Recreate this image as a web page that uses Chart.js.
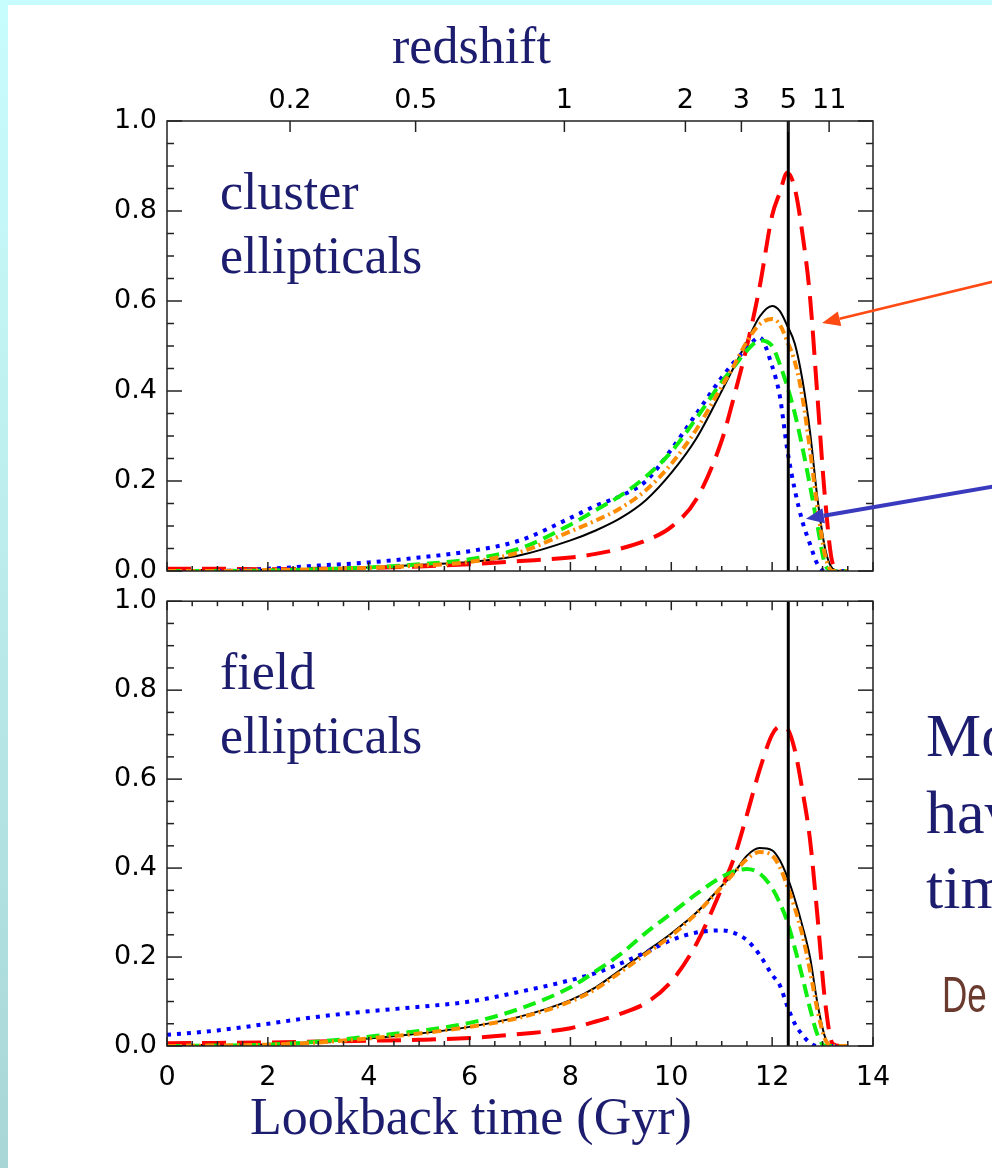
<!DOCTYPE html>
<html>
<head>
<meta charset="utf-8">
<script src="https://cdn.jsdelivr.net/npm/chart.js@4.4.1/dist/chart.umd.min.js"></script>
<style>
  html, body { margin: 0; padding: 0; }
  body { width: 992px; height: 1168px; position: relative; overflow: hidden; background: #fff; }
  .band-top { position: absolute; left: 0; top: 0; width: 992px; height: 5px; background: #c8fdfd; }
  .band-left { position: absolute; left: 0; top: 0; width: 8px; height: 1168px; background: linear-gradient(#c8fdfd, #bdeded 45%, #a8d6d6); }
  canvas { position: absolute; left: 0; }
  #topPanel { top: 0; }
  #bottomPanel { top: 575px; }
  .txt { position: absolute; font-family: "Liberation Serif", "Times New Roman", serif; color: #1d1d6f; line-height: 1; white-space: nowrap; }
  .big { font-size: 52px; }
  .side { font-size: 62px; left: 926px; }
  .ref { position: absolute; left: 942px; top: 970px; font-family: "Liberation Sans", sans-serif; font-size: 50px; line-height: 1; color: #6b3a2e; transform: scaleX(0.7); transform-origin: left top; white-space: nowrap; }
</style>
</head>
<body>
<div class="band-top"></div>
<div class="band-left"></div>
<canvas id="topPanel" width="992" height="600"></canvas>
<canvas id="bottomPanel" width="992" height="593"></canvas>

<div class="txt big" style="left:392px; top:20px;">redshift</div>
<div class="txt big" style="left:220px; top:166px;">cluster</div>
<div class="txt big" style="left:220px; top:230px;">ellipticals</div>
<div class="txt big" style="left:220px; top:646px;">field</div>
<div class="txt big" style="left:220px; top:710px;">ellipticals</div>
<div class="txt big" style="left:250px; top:1091px;">Lookback time (Gyr)</div>
<div class="txt side" style="top:704px;">Mo</div>
<div class="txt side" style="top:781px;">hav</div>
<div class="txt side" style="top:856px;">tim</div>
<div class="ref">De</div>

<script>
// ---------- data ----------
const lookbackGyr = [0, 1, 2, 3, 4, 5, 6, 7, 8, 8.5, 9, 9.5, 10, 10.5, 11, 11.25, 11.5, 11.75, 12, 12.15, 12.3, 12.45, 12.6, 12.75, 12.9, 13.05, 13.2, 13.35, 13.5];

// cluster ellipticals (top panel)
const clusterBlack  = [0.002, 0.002, 0.003, 0.005, 0.008, 0.014, 0.02, 0.035, 0.068, 0.09, 0.118, 0.158, 0.218, 0.295, 0.4, 0.455, 0.51, 0.565, 0.589, 0.578, 0.545, 0.505, 0.425, 0.31, 0.16, 0.05, 0.005, 0, 0];
const clusterOrange = [0, 0, 0.002, 0.004, 0.007, 0.012, 0.02, 0.042, 0.088, 0.112, 0.14, 0.18, 0.238, 0.315, 0.41, 0.458, 0.51, 0.548, 0.56, 0.548, 0.51, 0.465, 0.387, 0.27, 0.14, 0.035, 0, 0, 0];
const clusterGreen  = [0, 0, 0.001, 0.004, 0.008, 0.015, 0.026, 0.05, 0.103, 0.135, 0.168, 0.21, 0.265, 0.34, 0.42, 0.455, 0.49, 0.512, 0.5, 0.46, 0.41, 0.35, 0.275, 0.19, 0.1, 0.015, 0, 0, 0];
const clusterBlue   = [0, 0, 0.005, 0.012, 0.019, 0.03, 0.044, 0.068, 0.118, 0.145, 0.167, 0.2, 0.27, 0.35, 0.43, 0.465, 0.495, 0.519, 0.455, 0.39, 0.27, 0.18, 0.11, 0.06, 0.015, 0, 0, 0, 0];
const clusterRed    = [0.005, 0.005, 0.004, 0.005, 0.007, 0.01, 0.015, 0.022, 0.03, 0.038, 0.05, 0.068, 0.098, 0.16, 0.29, 0.39, 0.5, 0.63, 0.79, 0.84, 0.885, 0.85, 0.75, 0.61, 0.385, 0.16, 0.017, 0, 0];

// field ellipticals (bottom panel)
const fieldBlack  = [0.002, 0.002, 0.004, 0.009, 0.017, 0.028, 0.043, 0.066, 0.103, 0.132, 0.172, 0.212, 0.253, 0.3, 0.36, 0.39, 0.428, 0.445, 0.44, 0.418, 0.38, 0.33, 0.27, 0.2, 0.095, 0.02, 0, 0, 0];
const fieldOrange = [0, 0.001, 0.003, 0.008, 0.017, 0.028, 0.043, 0.064, 0.1, 0.128, 0.167, 0.207, 0.248, 0.298, 0.358, 0.39, 0.42, 0.436, 0.428, 0.403, 0.36, 0.31, 0.25, 0.17, 0.08, 0.015, 0, 0, 0];
const fieldGreen  = [0, 0.001, 0.003, 0.01, 0.021, 0.034, 0.052, 0.084, 0.132, 0.168, 0.207, 0.255, 0.298, 0.342, 0.38, 0.393, 0.398, 0.388, 0.355, 0.322, 0.28, 0.22, 0.155, 0.085, 0.025, 0, 0, 0, 0];
const fieldBlue   = [0.025, 0.035, 0.05, 0.066, 0.078, 0.088, 0.1, 0.122, 0.148, 0.164, 0.186, 0.211, 0.238, 0.255, 0.26, 0.254, 0.238, 0.205, 0.16, 0.137, 0.09, 0.05, 0.025, 0.007, 0, 0, 0, 0, 0];
const fieldRed    = [0.006, 0.007, 0.008, 0.01, 0.012, 0.014, 0.018, 0.027, 0.04, 0.055, 0.073, 0.097, 0.145, 0.23, 0.355, 0.425, 0.52, 0.62, 0.7, 0.718, 0.713, 0.665, 0.575, 0.465, 0.29, 0.1, 0.005, 0, 0];

// top axis: redshift labels at their lookback times
const redshiftLabels = ["0.2", "0.5", "1", "2", "3", "5", "11"];
const redshiftGyr = [2.44, 4.93, 7.88, 10.28, 11.39, 12.32, 13.13];
const formationGyr = 12.32; // z = 5

// annotation arrows (top panel, data units)
const arrowRedTail = [16.6, 0.649], arrowRedTip = [12.99, 0.551];
const arrowBlueTail = [16.6, 0.192], arrowBlueTip = [12.67, 0.116];

// ---------- helpers ----------
Chart.defaults.font.family = "DejaVu Sans";
const tickFont = { family: "DejaVu Sans", size: 27 };

const pts = vals => lookbackGyr.map((t, i) => ({ x: t, y: vals[i] }));

const line = (data, color, width, dash) => ({
  data, borderColor: color, borderWidth: width, borderDash: dash || [],
  pointRadius: 0, fill: false, cubicInterpolationMode: "monotone",
  xAxisID: "x", yAxisID: "y"
});

const panelSets = (black, orange, green, blue, red) => [
  line([{ x: formationGyr, y: 0 }, { x: formationGyr, y: 1 }], "#000", 3),
  line(pts(orange), "#ff8c00", 4, [9, 4, 2, 4]),
  line(pts(green), "#10ee10", 4, [13, 7]),
  line(pts(blue), "#0000ff", 4, [4, 6]),
  line(pts(red), "#ff0000", 4, [24, 11]),
  line(pts(black), "#000", 2)
];

// IDL-style frame: box, inward ticks, arrows
const idlFrame = {
  id: "idlFrame",
  afterDraw(chart, args, opts) {
    const { ctx, chartArea: a } = chart;
    const sx = chart.scales.x, sy = chart.scales.y;
    const seg = (x1, y1, x2, y2) => { ctx.beginPath(); ctx.moveTo(x1, y1); ctx.lineTo(x2, y2); ctx.stroke(); };
    ctx.save();
    ctx.strokeStyle = "#222";
    ctx.lineWidth = 1.5;
    ctx.strokeRect(a.left, a.top, a.right - a.left, a.bottom - a.top);
    for (let i = 0; i <= 28; i++) {
      const px = sx.getPixelForValue(i * 0.5);
      const len = i % 4 === 0 ? 9 : 5;
      seg(px, a.bottom, px, a.bottom - len);
      if (opts.topTicks === "time") seg(px, a.top, px, a.top + len);
    }
    for (let i = 0; i <= 20; i++) {
      const py = sy.getPixelForValue(i * 0.05);
      const len = i % 4 === 0 ? 15 : 7;
      seg(a.left, py, a.left + len, py);
      seg(a.right, py, a.right - len, py);
    }
    if (opts.topTicks === "redshift") {
      redshiftGyr.forEach(t => { const px = sx.getPixelForValue(t); seg(px, a.top, px, a.top + 11); });
    }
    (opts.arrows || []).forEach(ar => {
      const x1 = sx.getPixelForValue(ar.tail[0]), y1 = sy.getPixelForValue(ar.tail[1]);
      const x2 = sx.getPixelForValue(ar.tip[0]), y2 = sy.getPixelForValue(ar.tip[1]);
      const ang = Math.atan2(y2 - y1, x2 - x1);
      const hl = 18, hw = 7.5;
      const bx = x2 - hl * Math.cos(ang), by = y2 - hl * Math.sin(ang);
      ctx.strokeStyle = ar.color;
      ctx.fillStyle = ar.color;
      ctx.lineWidth = ar.width;
      seg(x1, y1, bx, by);
      ctx.beginPath();
      ctx.moveTo(x2, y2);
      ctx.lineTo(bx + hw * Math.sin(ang), by - hw * Math.cos(ang));
      ctx.lineTo(bx - hw * Math.sin(ang), by + hw * Math.cos(ang));
      ctx.closePath();
      ctx.fill();
    });
    ctx.restore();
  }
};

const yAxis = {
  min: 0, max: 1,
  ticks: { stepSize: 0.2, callback: v => v.toFixed(1), font: tickFont, color: "#000", padding: 10 },
  grid: { display: false, drawTicks: false },
  border: { display: false },
  afterFit: s => { s.width = 167; }
};

const baseOptions = {
  responsive: false, maintainAspectRatio: false, animation: false, events: [],
  plugins: { legend: { display: false }, tooltip: { enabled: false } }
};

// ---------- top panel: cluster ellipticals ----------
new Chart(document.getElementById("topPanel").getContext("2d"), {
  type: "line",
  data: { datasets: panelSets(clusterBlack, clusterOrange, clusterGreen, clusterBlue, clusterRed) },
  plugins: [idlFrame],
  options: {
    ...baseOptions,
    layout: { padding: { left: 0, right: 119, top: 0, bottom: 0 } },
    plugins: {
      ...baseOptions.plugins,
      idlFrame: {
        topTicks: "redshift",
        arrows: [
          { tail: arrowRedTail, tip: arrowRedTip, color: "#ff4a14", width: 2.7 },
          { tail: arrowBlueTail, tip: arrowBlueTip, color: "#3a3abf", width: 4 }
        ]
      }
    },
    scales: {
      x: {
        type: "linear", position: "bottom", min: 0, max: 14,
        ticks: { display: false }, grid: { display: false, drawTicks: false }, border: { display: false },
        afterFit: s => { s.height = 29; }
      },
      z: {
        type: "linear", position: "top", min: 0, max: 14,
        afterBuildTicks: s => { s.ticks = redshiftGyr.map(v => ({ value: v })); },
        ticks: { autoSkip: false, maxRotation: 0, font: tickFont, color: "#000", padding: 4,
                 callback: (v, i) => redshiftLabels[i] },
        grid: { display: false, drawTicks: false }, border: { display: false },
        afterFit: s => { s.height = 121; }
      },
      y: yAxis
    }
  }
});

// ---------- bottom panel: field ellipticals ----------
new Chart(document.getElementById("bottomPanel").getContext("2d"), {
  type: "line",
  data: { datasets: panelSets(fieldBlack, fieldOrange, fieldGreen, fieldBlue, fieldRed) },
  plugins: [idlFrame],
  options: {
    ...baseOptions,
    layout: { padding: { left: 0, right: 119, top: 20, bottom: 0 } },
    plugins: { ...baseOptions.plugins, idlFrame: { topTicks: "time" } },
    scales: {
      x: {
        type: "linear", position: "bottom", min: 0, max: 14,
        ticks: { stepSize: 2, autoSkip: false, maxRotation: 0, font: tickFont, color: "#000", padding: 16 },
        grid: { display: false, drawTicks: false }, border: { display: false },
        afterFit: s => { s.height = 122; }
      },
      y: { ...yAxis }
    }
  }
});
</script>
</body>
</html>
